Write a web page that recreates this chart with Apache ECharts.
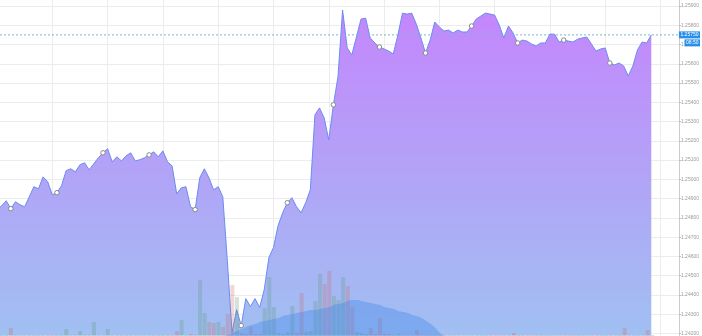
<!DOCTYPE html>
<html>
<head>
<meta charset="utf-8">
<script src="https://cdn.jsdelivr.net/npm/echarts@6/dist/echarts.min.js"></script>
<style>
html,body{margin:0;padding:0;background:#fff;}
#chart{width:702px;height:336px;}
</style>
</head>
<body>
<div id="chart"></div>
<script>
// 5-minute bar times, 21:00 .. 08:50
const startMinute = 21 * 60;
const barMinutes = 5;
const barCount = 143;
const times = [];
for (let i = 0; i < barCount; i++) {
  const m = (startMinute + i * barMinutes) % (24 * 60);
  times.push(String(Math.floor(m / 60)).padStart(2, '0') + ':' + String(m % 60).padStart(2, '0'));
}

// closing prices
const price = [
  1.24843, 1.24863, 1.24889, 1.24848, 1.24884, 1.24868, 1.24858, 1.24910, 1.24962, 1.24951,
  1.25013, 1.24988, 1.24920, 1.24931, 1.24967, 1.25045, 1.25055, 1.25039, 1.25076, 1.25086,
  1.25050, 1.25081, 1.25112, 1.25138, 1.25159, 1.25091, 1.25117, 1.25096, 1.25122, 1.25138,
  1.25096, 1.25102, 1.25112, 1.25127, 1.25143, 1.25117, 1.25148, 1.25091, 1.25070, 1.24925,
  1.24956, 1.24962, 1.24858, 1.24843, 1.25008, 1.25055, 1.25008, 1.24946, 1.24962, 1.24910,
  1.24573, 1.24205, 1.24324, 1.24241, 1.24381, 1.24340, 1.24381, 1.24335, 1.24428, 1.24594,
  1.24646, 1.24760, 1.24827, 1.24879, 1.24905, 1.24858, 1.24827, 1.24879, 1.24946, 1.25335,
  1.25371, 1.25319, 1.25205, 1.25387, 1.25532, 1.25879, 1.25682, 1.25646, 1.25739, 1.25832,
  1.25837, 1.25734, 1.25708, 1.25687, 1.25677, 1.25666, 1.25651, 1.25749, 1.25863, 1.25858,
  1.25863, 1.25806, 1.25734, 1.25656, 1.25723, 1.25817, 1.25791, 1.25770, 1.25775, 1.25760,
  1.25775, 1.25765, 1.25765, 1.25796, 1.25832, 1.25848, 1.25863, 1.25858, 1.25853, 1.25801,
  1.25734, 1.25796, 1.25760, 1.25708, 1.25723, 1.25718, 1.25703, 1.25692, 1.25708, 1.25708,
  1.25754, 1.25754, 1.25713, 1.25723, 1.25718, 1.25713, 1.25728, 1.25734, 1.25739, 1.25703,
  1.25666, 1.25677, 1.25682, 1.25604, 1.25594, 1.25604, 1.25589, 1.25537, 1.25589, 1.25672,
  1.25713, 1.25708, 1.25750
];

// traded volume per bar
const volume = [
  1, 1, 1, 8, 1, 1, 1, 1, 1, 1,
  1, 1, 1, 1, 1, 7, 1, 1, 5, 1,
  1, 14, 1, 1, 7, 1, 1, 1, 1, 1,
  1, 1, 1, 1, 1, 1, 1, 1, 1, 5,
  16, 1, 2, 1, 56, 23, 14, 13, 14, 9,
  22, 51, 39, 3, 2, 9, 2, 2, 28, 59,
  29, 3, 2, 4, 30, 3, 43, 4, 5, 35,
  62, 52, 65, 40, 36, 59, 50, 29, 4, 3,
  2, 8, 2, 18, 2, 2, 1, 2, 1, 1,
  1, 6, 1, 1, 1, 1, 1, 1, 1, 1,
  1, 1, 1, 1, 1, 1, 1, 1, 1, 1,
  1, 1, 3, 1, 1, 1, 1, 1, 1, 1,
  1, 1, 1, 1, 1, 1, 1, 1, 1, 1,
  1, 1, 1, 1, 1, 1, 8, 1, 1, 1,
  1, 6, 1
];

// volume average band (starts at bar index 49)
const volumeAvgStart = 49;
const volumeAvg = [
  0, 1, 3, 5, 7, 9, 11, 12, 14, 15,
  16, 17, 18, 20, 21, 22, 23, 24, 25, 26,
  26, 27, 28, 29, 31, 32, 33, 35, 36, 36,
  35, 34, 33, 32, 31, 29, 28, 27, 25, 24,
  23, 21, 20, 18, 15, 12, 8, 3, 0
];

// visible axis windows (x in hours since midnight of first day)
const xMin = 21.054, xMax = 33.333;
const yMin = 1.241896, yMax = 1.259311;
const volMax = 136;

function timeToHours(t) {
  const [h, m] = t.split(':').map(Number);
  const v = h + m / 60;
  return v < 12 ? v + 24 : v;
}
const xs = times.map(timeToHours);

const lastIndex = price.length - 1;
const lastPrice = price[lastIndex];
const lastTime = times[lastIndex];

const priceData = price.map((p, i) => [xs[i], p]);
const lastPriceLine = [[xMin, lastPrice], [xMax, lastPrice]];
const volumeData = volume.map((v, i) => {
  const up = i === 0 || price[i] >= price[i - 1];
  return { value: [xs[i], v], itemStyle: { color: up ? 'rgba(90,150,115,0.26)' : 'rgba(205,105,105,0.27)' } };
});
const volumeAvgData = volumeAvg.map((v, k) => [xs[volumeAvgStart + k], v]);

const labelFont = 'Arial, Liberation Sans, sans-serif';

const chart = echarts.init(document.getElementById('chart'), null, { renderer: 'canvas' });
chart.setOption({
  animation: false,
  backgroundColor: '#ffffff',
  grid: [
    { left: 0, right: 22, top: 0, bottom: 0 },
    { left: 0, right: 22, top: 200, bottom: 0 }
  ],
  xAxis: [
    {
      type: 'value', gridIndex: 0, min: xMin, max: xMax, splitNumber: 12, minInterval: 1, maxInterval: 1,
      axisLine: { show: false }, axisTick: { show: false }, axisLabel: { show: false },
      splitLine: { show: true, showMinLine: false, showMaxLine: false, lineStyle: { color: '#ececec', width: 1 } }
    },
    {
      type: 'value', gridIndex: 1, min: xMin, max: xMax, show: false, splitLine: { show: false }
    }
  ],
  yAxis: [
    {
      type: 'value', gridIndex: 0, position: 'right', min: yMin, max: yMax,
      splitNumber: 17, minInterval: 0.001, maxInterval: 0.001,
      axisLine: { show: true, lineStyle: { color: '#cccccc', width: 1 } },
      axisTick: { show: true, length: 2, lineStyle: { color: '#bbbbbb' } },
      axisLabel: { fontSize: 5, color: '#9a9a9a', margin: 2, showMinLabel: false, showMaxLabel: false,
        fontFamily: labelFont, formatter: v => v.toFixed(5) },
      splitLine: { show: true, showMinLine: false, showMaxLine: false, lineStyle: { color: '#ececec', width: 1 } }
    },
    {
      type: 'value', gridIndex: 1, min: 0, max: volMax, show: false, splitLine: { show: false }
    }
  ],
  series: [
    {
      name: 'Price', type: 'line', xAxisIndex: 0, yAxisIndex: 0, data: priceData,
      symbol: 'circle', showAllSymbol: true,
      symbolSize: (v, p) => (p.dataIndex % 10 === 3 ? 4.5 : 0),
      itemStyle: { color: '#ffffff', borderColor: '#8a8a8a', borderWidth: 1 },
      lineStyle: { color: '#6a8cf0', width: 1 },
      areaStyle: {
        color: new echarts.graphic.LinearGradient(0, 0, 0, 1, [
          { offset: 0, color: 'rgb(196,134,252)' },
          { offset: 1, color: 'rgb(160,192,242)' }
        ]),
        opacity: 1
      },
      z: 2
    },
    {
      name: 'Volume', type: 'bar', xAxisIndex: 1, yAxisIndex: 1, data: volumeData,
      barWidth: 4, z: 3
    },
    {
      name: 'Volume average', type: 'line', xAxisIndex: 1, yAxisIndex: 1, data: volumeAvgData,
      smooth: true, symbol: 'none',
      lineStyle: { width: 0 },
      areaStyle: { color: 'rgba(60,130,235,0.5)' },
      z: 4
    },
    {
      name: 'Last price', type: 'line', xAxisIndex: 0, yAxisIndex: 0, data: lastPriceLine,
      symbol: 'none', silent: true,
      lineStyle: { color: '#7ab6da', type: [2, 2], width: 1 },
      endLabel: {
        show: true, distance: 0,
        formatter: () => '{e|' + lastTime + '}\n{a|' + lastPrice.toFixed(5) + '}\n{b|' + lastTime + '}',
        rich: {
          e: { fontSize: 5, lineHeight: 8, color: 'rgba(0,0,0,0)', align: 'right', fontFamily: labelFont },
          a: { fontSize: 5, lineHeight: 8, color: '#ffffff', backgroundColor: '#2a8fe8', padding: [1, 1.5], fontFamily: labelFont },
          b: { fontSize: 5, lineHeight: 8, color: '#ffffff', backgroundColor: '#2a8fe8', padding: [1, 1.5], align: 'right', fontFamily: labelFont }
        }
      },
      z: 6
    }
  ]
});
</script>
</body>
</html>
